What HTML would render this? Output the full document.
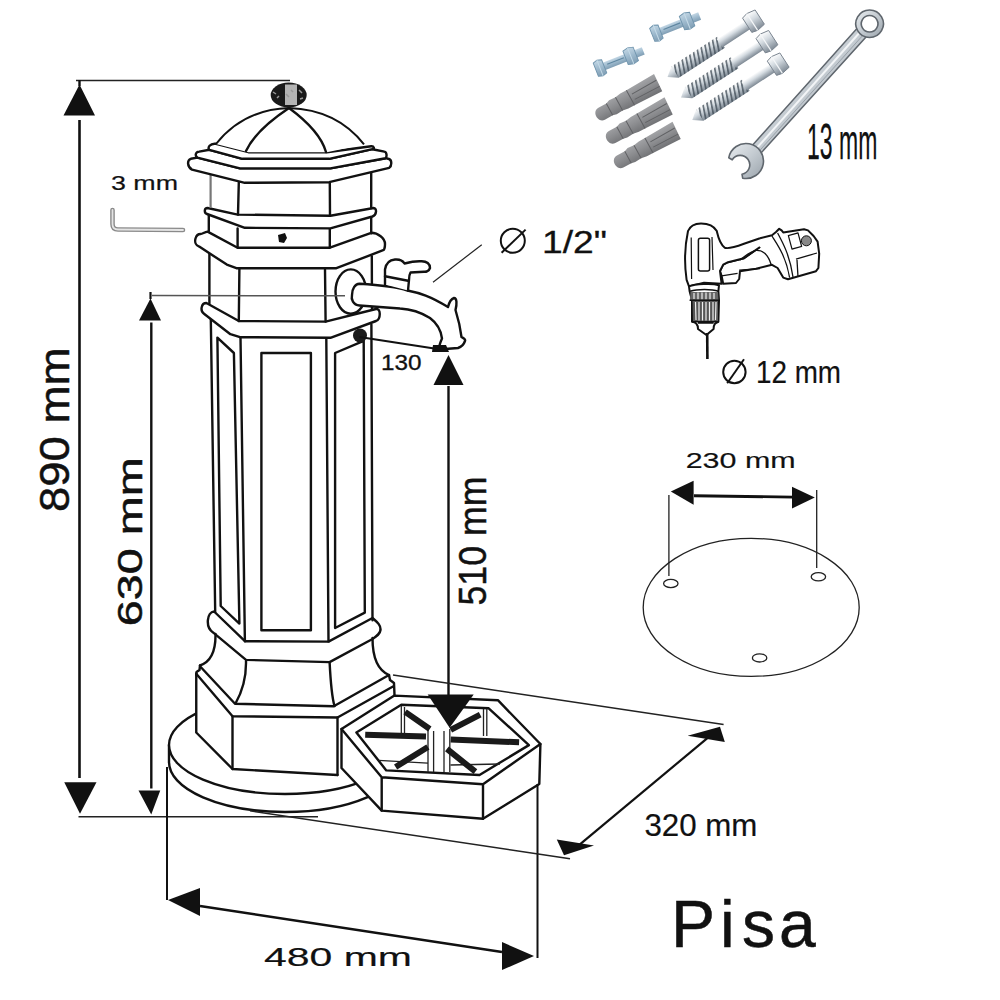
<!DOCTYPE html>
<html><head><meta charset="utf-8">
<style>
html,body{margin:0;padding:0;background:#fff;width:1000px;height:1000px;overflow:hidden}
svg{display:block}
text{font-family:"Liberation Sans",sans-serif;fill:#111}
.p{fill:none;stroke:#111;stroke-width:2.4;stroke-linejoin:round;stroke-linecap:round}
.w{fill:#fff;stroke:#111;stroke-width:2.4;stroke-linejoin:round;stroke-linecap:round}
.d{fill:none;stroke:#111;stroke-width:2.4}
.t{fill:none;stroke:#222;stroke-width:1.3}
.k{fill:#111;stroke:none}
</style></head><body>
<svg width="1000" height="1000" viewBox="0 0 1000 1000">
<rect width="1000" height="1000" fill="#fff"/>
<!--disc-->
<path class="w" d="M169,745 L169,762 A116,50 0 0 0 401,762 L401,745 Z"/>
<ellipse class="w" cx="285" cy="745" rx="116" ry="49"/>

<!--pump-->
<g>
<!-- silhouette fill -->
<path fill="#fff" stroke="none" d="M196,674 L196,732 L232,769 L338,775 L392,748 L393,687 L388,676 L376,635 L381,625 L372,619 L372,321 L379,314 L376,309 L372,309 L372,256 L385,244 L371,232 L371,217 L375,210 L371,208 L371,168 L391,163 L385,151 L365,144 L289,108 L216,144 L190,160 L192,170 L210,174 L210,208 L207,214 L208,231 L195,240 L199,247 L209,253 L209,303 L203,308 L204,314 L211,319 L215,612 L208,620 L213,632 L215,637 L201,667 Z"/>
<!-- block -->
<path class="p" d="M196.25,673.75 L196.25,732.5 L232.5,769 L337.5,775"/>
<path class="p" d="M232.5,716.25 L232.5,769 M337.5,717.5 L337.5,775"/>
<path class="p" d="M196.25,673.75 L232.5,716.25 L337.5,717.5 L393,686.5"/>
<!-- step -->
<path class="p" d="M200,665.5 L199.5,670 L196.5,672 L196.25,675 M200,666.25 L235,703.75 L333.75,706.25 L389,675 L390,680 L394,683 L394.5,695"/>
<!-- plinth -->
<path class="p" d="M215.5,634 Q216,660 200,665.5 M372.5,638 Q372.5,668 389,675 M246,661 Q246.5,684 235.5,703.5 M329.6,662.1 Q331.25,695 334.5,706"/>
<!-- band7 -->
<path class="p" d="M214.1,611.5 L244.9,641.2 L328.5,641.6 L372.5,618 C377,622 381,625 380.5,630 C380,634 377,636 372.5,639 L329.6,662.1 L246,659.9 L213,632.4 C205,627 207,612 214.1,611.5 Z"/>
<!-- main column -->
<path class="p" d="M210.8,318.6 L215.2,612 M240.5,337.6 L244.9,641.2 M326.3,337.6 L328.5,641.4 M371.4,324.4 L372.5,620.3"/>
<path class="p" d="M217.4,337.6 L233.9,353 L239.4,623.6 L220.7,606 Z"/>
<path class="p" d="M261.4,353 L310.9,353 L310.9,630.2 L261.4,630.2 Z"/>
<path class="p" d="M335.1,353 L363.7,340.9 L364.8,612.6 L335.1,628 Z"/>
<!-- band6 -->
<path class="w" d="M206.4,303 L238.8,321 L325.6,321.6 L376,309 C381,308 381,319 376,321 L330.4,337.8 L240,337.2 L230.4,334.2 L204,313.8 C200,311 201,303 206.4,303 Z"/>
<!-- middle section -->
<path class="p" d="M209.4,252.6 L209.4,303.5 M239.4,268.8 L238.8,321 M325,269.4 L325.6,321.6 M371.8,256.2 L372,309"/>
<!-- band5 -->
<path class="w" d="M207.6,231.6 L237.6,247.8 L329.2,247.8 L371.2,232.8 C378,233 385,238 385,244 C385,248 384,250 383.2,250.2 L336.4,268.2 L236.4,268.2 L226.8,264.6 L199.2,246.6 C196,245.5 194.5,242 195.5,238.5 C196.5,235 198.5,234 200.5,234 C202.5,234 204.5,232 207.6,231.6 Z"/>
<!-- screw section -->
<path class="p" d="M237.6,228.4 L237.6,247.6 M329.8,228.4 L329.8,247.6 M371.2,217.6 L371.2,233.2 M208.8,214 L208.8,231"/>
<path class="k" d="M278,235 L285,233 L287,238 L284,243 L279,242 Z"/>
<!-- band4 -->
<path class="w" d="M207.6,208 L237.6,214.6 L330.4,215.8 L373.6,208 C377,208 377,215 372.4,216.5 L330.4,228.4 L244.8,227.8 L207,214 C204,213 204,208 207.6,208 Z"/>
<!-- lantern -->
<path class="p" d="M238.8,182.8 L238,214.6 M329.8,182.8 L330,215.8 M371.2,167.8 L371.2,208"/>
<path d="M210.6,173.8 L210.6,208" stroke="#777" stroke-width="2.2" fill="none"/>
<!-- cap bands -->
<path class="w" d="M192,169.6 L244.8,182.8 L329.2,182.2 L389.2,167.8 C392,166 392,160 389,159 L385.6,158.2 L330.4,168.4 L240,168.4 L197.4,157.6 L190.8,158.8 C187,160 187,167 192,169.6 Z"/>
<path class="w" d="M197.4,157.6 L240,168.4 L330.4,168.4 L385.6,158.2 C387,157 387,152 384.4,151.6 L372.4,149.2 L329.2,158.8 L242.4,158.8 L209.4,149.8 L199.2,151.6 C195,152 195,156 197.4,157.6 Z"/>
<path class="w" d="M209.4,149.8 L242.4,158.8 L329.2,158.8 L372.4,149.2 C375,149 374,146 371.2,146.2 L326.8,152.2 L248.4,152.2 L216,143.8 C210,143 207,148 209.4,149.8 Z"/>
<!-- dome -->
<path d="M216,144 C235,120 260,109 289,108 C318,109 345,120 364,144.4 L326.8,152.2 L248.4,152.2 Z" fill="#fff" stroke="none"/>
<path d="M216,144 C235,120 260,109 289,108 C318,109 345,120 364,144.4" fill="none" stroke="#111" stroke-width="2"/>
<path class="p" d="M289,108 C268,122 252,138 246,151 M289,108 C308,122 322,138 326,152" stroke-width="1.8"/>
<!-- knob -->
<ellipse cx="288.7" cy="95" rx="18" ry="12.5" fill="#1a1a1a"/>
<rect x="285" y="84.5" width="12" height="20.5" fill="#b4b4b4"/>
<path d="M273,92 l3,2 M277,98 l2,-2 M299,90 l3,3 M300,99 l3,-1 M286,94 l3,3 M291,90 l2,2" stroke="#999" stroke-width="1.5"/>
<!-- faucet -->
<ellipse class="w" cx="350.8" cy="291.6" rx="15.3" ry="22.2"/>
<path class="w" d="M359.5,283.75 C380,285 400,288 407.5,290.5 C420,293 430,296 448,307 C449,303 451,299 454,298 C457,298 457,304 455.5,310 C458,318 460,325 461.5,337 C463,338 466,339 465,341 C464,344 461,347 458,348 L445,349 L439,349 C439,346 440,343 442,338.5 C441,330 438,324 430,318 C422,313 410,309 400,308.5 L359.5,305.5 C353,305 351,299 352,295 C352,289 355,284 359.5,283.75 Z"/>
<path class="w" d="M385,284.5 L385,269.5 C386,263 389,260 395,259.5 C401,259 403,261 404.5,263.5 C410,262 416,261 421,261.25 C427,261 430,264 430,268 C429,271 426,272 424,271.75 L410.5,272.5 C409,275 409,279 409,280 L408,290.5"/>
<path class="p" d="M385,276.25 L408,280.75"/>
<circle cx="360" cy="335.5" r="7" fill="#1a1a1a"/>
<path class="k" d="M433,345 L446,345 L449,352 L432,352 Z"/>
</g>

<!--basin-->
<g>
<path class="w" d="M341.5,729 L394.4,695.6 L497.9,700.2 L540.4,744 L539.3,784 L483,818.7 L381.7,810.6 L341.5,768 Z"/>
<path class="p" d="M341.5,729 L381.7,777.3 L483,784.2 L540.4,744 M381.7,777.3 L381.7,810.6 M483,784.2 L483,818.7"/>
<path class="p" d="M356.4,732.4 L401.3,704.8 L488.7,708.3 L528.9,745.1 L479.5,775 L386.3,770.4 Z"/>
<path class="t" d="M428,729 L428,772 M433.6,731 L433.6,772 M444,731 L444,772 M449.8,729 L449.8,772 M401.3,706 L401.3,734 M404.5,707 L404.5,733 M486.8,709 L486.8,736 M483.5,709 L483.5,736 M378.5,760.3 L427.9,763.2 M450.7,765 L500,764" stroke-width="1.1"/>
<path d="M365.2,734.7 L426,736.6 M450.7,739.4 L519.1,742.3 M405.1,711.9 L429.8,729 M450.7,729.9 L480.2,714.7 M427.9,747 L395.6,767 M446.9,748.9 L475.4,771.7" stroke="#1a1a1a" stroke-width="6" fill="none"/>
</g>

<!--dims-->
<g>
<path d="M76,80.5 L290,80.5" stroke="#222" stroke-width="1.5"/>
<path d="M79.5,80 L79.5,86" stroke="#111" stroke-width="2.4"/>
<path class="k" d="M79.5,84.5 L63.5,115.5 L95,115.5 Z"/>
<path d="M79.5,120 L79.5,778" stroke="#111" stroke-width="2.6"/>
<path class="k" d="M64.25,782.25 L96.5,782.25 L80,813.75 Z"/>
<path d="M78.5,816.75 L318,816.75" stroke="#222" stroke-width="1.5"/>
<path d="M152,295.5 L345,295.8" stroke="#555" stroke-width="1.5"/>
<path d="M150.5,292 L150.5,299" stroke="#111" stroke-width="2.2"/>
<path class="k" d="M150.5,298.5 L139,320.5 L161,320.5 Z"/>
<path d="M151.3,322.5 L151.3,788.5" stroke="#111" stroke-width="2.4"/>
<path class="k" d="M138.5,790.5 L160.25,790.5 L151.25,814.5 Z"/>
<path class="k" d="M448.5,355 L433.5,385 L463.5,385 Z"/>
<path d="M448.5,386 L448.5,695" stroke="#111" stroke-width="2.4"/>
<path class="k" d="M427.7,694.5 L473.7,694.5 L449.6,727.8 Z"/>
<path d="M167,767 L167,900" stroke="#111" stroke-width="2"/>
<path d="M537.5,784 L537.5,958" stroke="#111" stroke-width="2"/>
<path class="k" d="M168,900 L200,888 L200,916 Z"/>
<path class="k" d="M534,956 L502,942 L502,970 Z"/>
<path d="M200,906 L502,952" stroke="#111" stroke-width="2.6"/>
<path d="M393,675 L723.6,724.4" stroke="#222" stroke-width="1.5"/>
<path d="M250,810.8 L570,858.8" stroke="#222" stroke-width="1.5"/>
<path d="M708,737.6 L578.4,845.6" stroke="#111" stroke-width="2.2"/>
<path class="k" d="M687.6,735.7 L720,726.8 L724.8,741.9 Z"/>
<path class="k" d="M556.8,839.6 L564,855.2 L594,845.6 Z"/>
<path d="M359.5,337 L437.5,349" stroke="#111" stroke-width="2.2"/>
<path d="M433,282.25 L481.75,244.75" stroke="#222" stroke-width="1.2"/>
<!-- plate -->
<ellipse cx="751.2" cy="607.4" rx="108" ry="69" fill="none" stroke="#222" stroke-width="1.3"/>
<ellipse cx="670.8" cy="583.5" rx="7.2" ry="4.1" fill="none" stroke="#222" stroke-width="1.3"/>
<ellipse cx="818.4" cy="576.8" rx="7.2" ry="4.1" fill="none" stroke="#222" stroke-width="1.3"/>
<ellipse cx="759.6" cy="657.9" rx="7.2" ry="4.1" fill="none" stroke="#222" stroke-width="1.3"/>
<path d="M668.9,495 L668.9,576 M816.7,490 L816.7,568" stroke="#222" stroke-width="1.3"/>
<path class="k" d="M670.8,491.6 L693.6,480.8 L693.6,504.8 Z"/>
<path class="k" d="M814.8,497.6 L792,486.8 L792,508.4 Z"/>
<path d="M694,495.7 L793,497.1" stroke="#111" stroke-width="2.9"/>
</g>

<!--text-->
<g>
<text x="111" y="190" font-size="21" textLength="67" lengthAdjust="spacingAndGlyphs" stroke="#111" stroke-width="0.2">3 mm</text>
<circle cx="512.8" cy="240.8" r="12" fill="none" stroke="#111" stroke-width="2"/>
<path d="M501.6,252.8 L525.6,229.6" stroke="#111" stroke-width="2"/>
<text x="542" y="252.8" font-size="32" textLength="65" lengthAdjust="spacingAndGlyphs" stroke="#111" stroke-width="0.3">1/2"</text>
<text x="381" y="370" font-size="21.5" textLength="40.5" lengthAdjust="spacingAndGlyphs" stroke="#111" stroke-width="0.3">130</text>
<text transform="translate(69,512) rotate(-90)" font-size="42.5" textLength="164.4" lengthAdjust="spacingAndGlyphs" stroke="#111" stroke-width="0.5">890 mm</text>
<text transform="translate(141.5,626.3) rotate(-90)" font-size="35.5" textLength="169" lengthAdjust="spacingAndGlyphs" stroke="#111" stroke-width="0.5">630 mm</text>
<text transform="translate(486,605.5) rotate(-90)" font-size="39.5" textLength="129" lengthAdjust="spacingAndGlyphs" stroke="#111" stroke-width="0.5">510 mm</text>
<text x="807" y="158.8" font-size="50" textLength="70.3" lengthAdjust="spacingAndGlyphs" stroke="#111" stroke-width="0.25">13 mm</text>
<circle cx="734.4" cy="372" r="11.2" fill="none" stroke="#111" stroke-width="2"/>
<path d="M727.2,383.2 L744,359.2" stroke="#111" stroke-width="2"/>
<text x="756" y="382.8" font-size="31" textLength="85" lengthAdjust="spacingAndGlyphs" stroke="#111" stroke-width="0.2">12 mm</text>
<text x="685.7" y="467.6" font-size="21.5" textLength="110" lengthAdjust="spacingAndGlyphs" stroke="#111" stroke-width="0.15">230 mm</text>
<text x="644.4" y="836" font-size="31.5" textLength="113" lengthAdjust="spacingAndGlyphs" stroke="#111" stroke-width="0.2">320 mm</text>
<text x="264" y="966" font-size="26" textLength="148" lengthAdjust="spacingAndGlyphs" stroke="#111" stroke-width="0.15">480 mm</text>
<text y="947" font-size="66" stroke="#111" stroke-width="0.5"><tspan x="671">P</tspan><tspan x="720">i</tspan><tspan x="742">s</tspan><tspan x="779">a</tspan></text>
</g>

<!--hw-->
<g>
<defs>
<linearGradient id="gb" x1="0" y1="0" x2="0" y2="1"><stop offset="0" stop-color="#c2d6e4"/><stop offset="0.5" stop-color="#9db9cd"/><stop offset="1" stop-color="#7f9db3"/></linearGradient>
<linearGradient id="gs" x1="0" y1="0" x2="0" y2="1"><stop offset="0" stop-color="#ffffff"/><stop offset="0.4" stop-color="#d3dae0"/><stop offset="1" stop-color="#7d8893"/></linearGradient>
<linearGradient id="gp" x1="0" y1="0" x2="0" y2="1"><stop offset="0" stop-color="#a3a4a7"/><stop offset="0.5" stop-color="#8b8c8f"/><stop offset="1" stop-color="#707174"/></linearGradient>
<linearGradient id="gw" x1="0" y1="0" x2="1" y2="1"><stop offset="0" stop-color="#e8ecef"/><stop offset="0.5" stop-color="#c4cbd1"/><stop offset="1" stop-color="#9aa3ab"/></linearGradient>
<pattern id="th" width="4.2" height="20" patternUnits="userSpaceOnUse" patternTransform="rotate(22)"><rect width="4.2" height="20" fill="none"/><rect width="1.8" height="20" fill="#3f4a55" opacity="0.75"/></pattern>
</defs>
<!-- bolts -->
<g transform="translate(600,68) rotate(-21.6)">
<rect x="3" y="-4" width="43.5" height="8" fill="url(#gb)"/>
<path d="M8,-0.8 L26,-0.8" stroke="#5f86a0" stroke-width="1.2"/>
<path d="M-4.5,-7 L0,-8.5 L4.5,-7 L4.5,7 L0,8.5 L-4.5,7 Z" fill="url(#gb)" stroke="#6f94ad" stroke-width="0.9"/>
<path d="M0,-8.5 L0,8.5" stroke="#c5dbe8" stroke-width="1"/>
<path d="M27.5,-7.2 L33,-8.6 L38.5,-7.2 L38.5,7.2 L33,8.6 L27.5,7.2 Z" fill="url(#gb)" stroke="#6f94ad" stroke-width="0.9"/>
<path d="M33,-8.6 L33,8.6" stroke="#c5dbe8" stroke-width="1"/>
</g>
<g transform="translate(656.4,33.2) rotate(-21.6)">
<rect x="3" y="-4" width="43.5" height="8" fill="url(#gb)"/>
<path d="M8,-0.8 L26,-0.8" stroke="#5f86a0" stroke-width="1.2"/>
<path d="M-4.5,-7 L0,-8.5 L4.5,-7 L4.5,7 L0,8.5 L-4.5,7 Z" fill="url(#gb)" stroke="#6f94ad" stroke-width="0.9"/>
<path d="M0,-8.5 L0,8.5" stroke="#c5dbe8" stroke-width="1"/>
<path d="M27.5,-7.2 L33,-8.6 L38.5,-7.2 L38.5,7.2 L33,8.6 L27.5,7.2 Z" fill="url(#gb)" stroke="#6f94ad" stroke-width="0.9"/>
<path d="M33,-8.6 L33,8.6" stroke="#c5dbe8" stroke-width="1"/>
</g>
<!-- plugs -->
<g transform="translate(601.5,113.5) rotate(-28.6)">
<path d="M0,-6.5 C-8,-6.5 -8,7 0,7 L9,7 L13,8 L20,7.5 L26,8.5 L33,8.5 L64,9.5 L65,-9.5 L33,-8.5 L26,-8.5 L20,-7.5 L13,-8 L9,-6.5 Z" fill="url(#gp)"/>
<path d="M9,-6.5 L9,7 M20,-7.5 L20,7.5 M33,-8.5 L33,8.5 M36,-2.5 L64,-3 M36,3.5 L64,4" stroke="#606164" stroke-width="1" fill="none"/>
</g>
<g transform="translate(612,136.8) rotate(-28.6)">
<path d="M0,-6.5 C-8,-6.5 -8,7 0,7 L9,7 L13,8 L20,7.5 L26,8.5 L33,8.5 L64,9.5 L65,-9.5 L33,-8.5 L26,-8.5 L20,-7.5 L13,-8 L9,-6.5 Z" fill="url(#gp)"/>
<path d="M9,-6.5 L9,7 M20,-7.5 L20,7.5 M33,-8.5 L33,8.5 M36,-2.5 L64,-3 M36,3.5 L64,4" stroke="#606164" stroke-width="1" fill="none"/>
</g>
<g transform="translate(620,161.3) rotate(-28.6)">
<path d="M0,-6.5 C-8,-6.5 -8,7 0,7 L9,7 L13,8 L20,7.5 L26,8.5 L33,8.5 L64,9.5 L65,-9.5 L33,-8.5 L26,-8.5 L20,-7.5 L13,-8 L9,-6.5 Z" fill="url(#gp)"/>
<path d="M9,-6.5 L9,7 M20,-7.5 L20,7.5 M33,-8.5 L33,8.5 M36,-2.5 L64,-3 M36,3.5 L64,4" stroke="#606164" stroke-width="1" fill="none"/>
</g>
<!-- screws -->
<g id="screw1" transform="translate(667.5,77) rotate(-33)">
<path d="M0,0 L9,-6.8 L64,-6.8 L64,6.8 L9,6.8 Z" fill="url(#gs)"/>
<rect x="9" y="-6.8" width="55" height="13.6" fill="url(#th)"/>
<rect x="62" y="-5" width="35" height="10" fill="url(#gs)"/>
<path d="M95,-8.5 L101,-10 L110,-8.5 L110,8.5 L101,10 L95,8.5 Z" fill="url(#gs)" stroke="#7a8590" stroke-width="0.9"/>
<path d="M101,-10 L101,10" stroke="#f4f6f8" stroke-width="1.2"/>
</g>
<g transform="translate(681,97.5) rotate(-33)">
<path d="M0,0 L9,-6.8 L64,-6.8 L64,6.8 L9,6.8 Z" fill="url(#gs)"/>
<rect x="9" y="-6.8" width="55" height="13.6" fill="url(#th)"/>
<rect x="62" y="-5" width="35" height="10" fill="url(#gs)"/>
<path d="M95,-8.5 L101,-10 L110,-8.5 L110,8.5 L101,10 L95,8.5 Z" fill="url(#gs)" stroke="#7a8590" stroke-width="0.9"/>
<path d="M101,-10 L101,10" stroke="#f4f6f8" stroke-width="1.2"/>
</g>
<g transform="translate(692.25,120) rotate(-33)">
<path d="M0,0 L9,-6.8 L64,-6.8 L64,6.8 L9,6.8 Z" fill="url(#gs)"/>
<rect x="9" y="-6.8" width="55" height="13.6" fill="url(#th)"/>
<rect x="62" y="-5" width="35" height="10" fill="url(#gs)"/>
<path d="M95,-8.5 L101,-10 L110,-8.5 L110,8.5 L101,10 L95,8.5 Z" fill="url(#gs)" stroke="#7a8590" stroke-width="0.9"/>
<path d="M101,-10 L101,10" stroke="#f4f6f8" stroke-width="1.2"/>
</g>
<!-- wrench -->
<path d="M751.1,146.7 L857.6,27.7 L866.9,36.1 L759.7,154.5 Z" fill="url(#gw)" stroke="#5f666d" stroke-width="1.5"/>
<path d="M755,150 L861,31" stroke="#f2f4f6" stroke-width="2"/>
<path d="M757.5,153 L864,34" stroke="#9aa2aa" stroke-width="1"/>
<path d="M869.6,9.95 A13.8,13.8 0 1 1 869.59,9.95 Z M869.6,15.45 A8.3,8.3 0 1 0 869.61,15.45 Z" fill="url(#gw)" fill-rule="evenodd" stroke="#5f666d" stroke-width="1.6"/>
<path d="M728.8,157.7 A17.5,17.5 0 1 1 742.7,178.2 L742,174.2 A9.5,9.5 0 1 0 732.2,159.8 Z" fill="url(#gw)" stroke="#5f666d" stroke-width="1.6" stroke-linejoin="round"/>
<!-- allen key -->
<path d="M112.5,210 L112.5,224 Q112.5,229.5 118,229.5 L183,230" fill="none" stroke="#8a8a8a" stroke-width="4.6" stroke-linecap="round"/>
<path d="M112.5,210 L112.5,224 Q112.5,229.5 118,229.5 L183,230" fill="none" stroke="#e4e4e4" stroke-width="1.8" stroke-linecap="round"/>
<!-- drill -->
<g fill="#fff" stroke="#111" stroke-width="2" stroke-linejoin="round">
<path d="M760,238.2 L772,235.2 L776,232 L779.2,228.8 L781.6,230.4 L783.2,232.4 L804,229.2 L808,230.4 L813.6,236 L817.6,241.6 L819.2,253.6 L818.4,268 L816,271.2 L788,279.2 L783.2,277.6 L777.6,268 L772,264.8 L756,268.8 L740,271.2 L739.2,279 L736,283 L723.2,283.8 L721.6,275.8 L720,271 L723.2,264.6 L728,262.2 L744,258.2 L760,247"/>
<path d="M760,247 L744,258.2 L728,262.2 L723.2,264.6 L720,271 L721.6,283.8 L704,282.8 L689,286.4 L686.6,279.8 C684,262 685,245 688,231 C690,226 695,223.5 701,223.4 C708,223.4 714,226 716.8,231 C718,236 719,243 724.8,247.8 C728,249 738,246 744,243.8 L760,238.2"/>
<path d="M772,236 C777,244 786,256 789.6,277.6 M777.6,233 C783,243 790,256 793,277 M740,260 C746,255 752,251 756,250.4 C762,250 768,254 771.2,264.8 M739.2,270.2 L760,268.6 M796,259 L817,253 M797,260 L798,277 M721.6,275.8 L737.6,273.4" fill="none" stroke-width="1.3"/>
<rect x="698.4" y="238.2" width="11.2" height="32.8" rx="2" fill="none" stroke-width="1.5"/>
<path d="M691.2,237.4 L691.6,279 M712,237 L713,270" fill="none" stroke-width="1.2"/>
<rect x="790" y="234" width="10" height="14" fill="none" stroke-width="1.2" transform="rotate(-15 795 241)"/>
<circle cx="806.4" cy="240.8" r="5" fill="#888" stroke-width="1"/>
<path d="M689,286.4 C695,284 712,283 719,285.2 L718.4,291.2 L719,300.2 L718.4,321.8 C716,323 713.6,323 713.6,329 L706.4,335 L698,329 C698,323 694,322 692,321.8 L692,300.2 L689.6,291.2 Z"/>
<path d="M690.5,292 L718,292 L718.5,300 L690,300 Z" fill="#666" stroke="none"/>
<path d="M692.5,301 L718,301 L717.8,321 L693,321 Z" fill="#555" stroke="none"/>
<path d="M694,293 L694,299 M698,292.5 L698,299.5 M702,292.5 L702,299.5 M706,292.5 L706,299.5 M710,292.5 L710,299.5 M714,293 L714,299 M695.5,302 L696,320 M699,302 L699,320.5 M702.5,302 L702.5,320.5 M706,302 L706,320.5 M709.5,302 L709.5,320.5 M713,302 L713,320.5 M716,302 L715.5,320" fill="none" stroke-width="1.2" stroke="#eee"/>
<path d="M690.2,291.2 C697,289 712,289 718.4,291.2 M689.6,300.2 L719,300.2 M692,321.8 L718.4,321.8 M698,323 L713.6,323" fill="none" stroke-width="1.5"/>
<path d="M707.2,333 L707.4,359" fill="none" stroke-width="2.6"/>
</g>
</g>

</svg>
</body></html>
